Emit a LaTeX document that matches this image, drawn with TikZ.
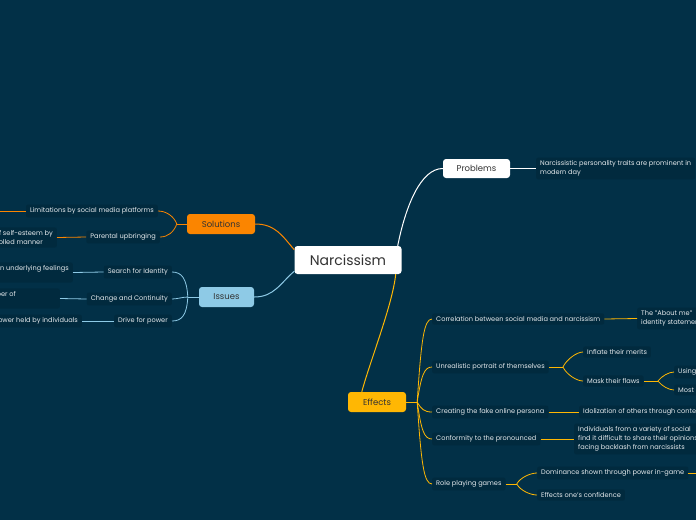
\documentclass[tikz,border=0pt]{standalone}
\usepackage{fontspec}
\setmainfont{Poppins}
\usetikzlibrary{positioning,calc}
\begin{document}
\begin{tikzpicture}[x=1pt, y=-1pt,
    topic/.style={rounded corners=3pt, inner sep=0pt, text=textdark,
      font=\fontsize{8.5}{10}\selectfont},
    txt/.style={fill=boxbg, rounded corners=2pt, inner xsep=4pt, inner ysep=3pt,
      text=textlight, align=left, font=\fontsize{6.6}{9}\selectfont},
    lnk/.style={line width=0.8pt},
    branch/.style={line width=1pt}]
  \definecolor{bg}{HTML}{023047}
  \definecolor{boxbg}{HTML}{012A3E}
  \definecolor{textlight}{HTML}{E4E9EC}
  \definecolor{textdark}{HTML}{333333}
  \definecolor{orangeS}{HTML}{FB8500}
  \definecolor{yellowE}{HTML}{FFB703}
  \definecolor{blueI}{HTML}{8ECAE6}
  \fill[bg] (0,0) rectangle (696,520);
  \useasboundingbox (0,0) rectangle (696,520);
  \clip (0,0) rectangle (696,520);

  \node[topic, fill=white, minimum width=107pt, minimum height=28pt,
    font=\fontsize{14}{16}\selectfont] (narc) at (348,260) {Narcissism};
  \node[topic, fill=white, minimum width=67pt, minimum height=19pt] (prob) at (476.5,168.5) {Problems};
  \node[topic, fill=orangeS, minimum width=68pt, minimum height=20pt] (sol) at (221,224) {Solutions};
  \node[topic, fill=blueI, minimum width=55pt, minimum height=20pt] (iss) at (226.5,297) {Issues};
  \node[topic, fill=yellowE, minimum width=58pt, minimum height=20pt] (eff) at (377,402) {Effects};

  \node[txt, anchor=west] (probtxt) at (536,168.5) {Narcissistic personality traits are prominent in\\modern day};

  \node[txt, anchor=east] (limit) at (158,211) {Limitations by social media platforms};
  \coordinate (limitnext) at (-5,211);
  \node[txt, anchor=east] (parent) at (160,237) {Parental upbringing};
  \node[txt, anchor=east, align=right] (selfest) at (57,237.5) {of self-esteem by\\controlled manner\kern10pt};
  \node[txt, anchor=east] (search) at (172,272) {Search for Identity};
  \node[txt, anchor=east, align=right] (underly) at (73,272.5) {on underlying feelings\\\phantom{x}};
  \node[txt, anchor=east] (change) at (172,299) {Change and Continuity};
  \node[txt, anchor=east, align=right] (number) at (60,298.5) {number of\kern40pt\\\phantom{x}};
  \node[txt, anchor=east] (drive) at (172,321) {Drive for power};
  \node[txt, anchor=east] (power) at (82,321) {power held by individuals};

  \node[txt, anchor=west] (correl) at (432,319) {Correlation between social media and narcissism};
  \node[txt, anchor=west] (aboutme) at (637,318.5) {The "About me"\\identity statement};
  \node[txt, anchor=west] (unreal) at (432,367) {Unrealistic portrait of themselves};
  \node[txt, anchor=west] (inflate) at (583,352) {Inflate their merits};
  \node[txt, anchor=west] (mask) at (583,381) {Mask their flaws};
  \node[txt, anchor=west] (using) at (674,372) {Using};
  \node[txt, anchor=west] (most) at (674,390) {Most};
  \node[txt, anchor=west] (create) at (432,412) {Creating the fake online persona};
  \node[txt, anchor=west] (idol) at (579,412) {Idolization of others through content};
  \node[txt, anchor=west] (conform) at (432,439) {Conformity to the pronounced};
  \node[txt, anchor=west] (indiv) at (574,439) {Individuals from a variety of social\\find it difficult to share their opinions\\facing backlash from narcissists};
  \node[txt, anchor=west] (role) at (432,484) {Role playing games};
  \node[txt, anchor=west] (domin) at (537,473) {Dominance shown through power in-game};
  \node[txt, anchor=west] (effconf) at (537,495) {Effects one's confidence};
  \coordinate (dominnext) at (700,473);

  \draw[branch, white] ($(narc.north east)+(-4,0)$) .. controls +(8,-40) and +(-22,0) .. (prob.west);
  \draw[lnk, white] (prob.east) -- (probtxt.west);
  \draw[branch, orangeS] (sol.east) .. controls +(20,0) and +(-12,-14) .. ($(narc.north west)+(0,4)$);
  \draw[branch, blueI] (iss.east) .. controls +(20,0) and +(-14,12) .. ($(narc.south west)+(0,-3)$);
  \draw[branch, yellowE] ($(narc.south east)+(-6,0)$) .. controls +(-3,30) and +(8,-30) .. ($(eff.north west)+(14,0)$);

  \coordinate (solfork) at ($(sol.west)+(-10,0)$);
  \draw[lnk, orangeS] (sol.west) -- (solfork);
  \draw[lnk, orangeS] (solfork) .. controls +(-3,-8) and +(8,0) .. (limit.east);
  \draw[lnk, orangeS] (solfork) .. controls +(-3,8) and +(8,0) .. (parent.east);
  \draw[lnk, orangeS] (limit.west) -- (limitnext);
  \draw[lnk, orangeS] (parent.west) -- (selfest.east);

  \coordinate (issfork) at ($(iss.west)+(-11,0)$);
  \draw[lnk, blueI] (iss.west) -- (issfork);
  \draw[lnk, blueI] (issfork) .. controls +(-1,-18) and +(10,0) .. (search.east);
  \draw[lnk, blueI] (issfork) .. controls +(-5,0) and +(5,0) .. (change.east);
  \draw[lnk, blueI] (issfork) .. controls +(-1,18) and +(10,0) .. (drive.east);
  \draw[lnk, blueI] (search.west) -- (underly.east);
  \draw[lnk, blueI] (change.west) -- (number.east);
  \draw[lnk, blueI] (drive.west) -- (power.east);

  \coordinate (efffork) at ($(eff.east)+(11,0)$);
  \draw[branch, yellowE] (eff.east) -- (efffork);
  \foreach \n/\d in {correl/-62, unreal/-26, create/7, conform/28, role/62}
    \draw[lnk, yellowE] (efffork) .. controls +(4,\d) and +(-8,0) .. (\n.west);
  \draw[lnk, yellowE] (correl.east) -- (aboutme.west);
  \coordinate (unrealfork) at ($(unreal.east)+(14,0)$);
  \draw[lnk, yellowE] (unreal.east) -- (unrealfork);
  \draw[lnk, yellowE] (unrealfork) .. controls +(4,-8) and +(-6,0) .. (inflate.west);
  \draw[lnk, yellowE] (unrealfork) .. controls +(4,8) and +(-6,0) .. (mask.west);
  \coordinate (maskfork) at ($(mask.east)+(14,0)$);
  \draw[lnk, yellowE] (mask.east) -- (maskfork);
  \draw[lnk, yellowE] (maskfork) .. controls +(4,-5) and +(-5,0) .. (using.west);
  \draw[lnk, yellowE] (maskfork) .. controls +(4,5) and +(-5,0) .. (most.west);
  \draw[lnk, yellowE] (create.east) -- (idol.west);
  \draw[lnk, yellowE] (conform.east) -- (indiv.west);
  \coordinate (rolefork) at ($(role.east)+(11,0)$);
  \draw[lnk, yellowE] (role.east) -- (rolefork);
  \draw[lnk, yellowE] (rolefork) .. controls +(4,-7) and +(-6,0) .. (domin.west);
  \draw[lnk, yellowE] (rolefork) .. controls +(4,7) and +(-6,0) .. (effconf.west);
  \draw[lnk, yellowE] (domin.east) -- (dominnext);
\end{tikzpicture}
\end{document}
